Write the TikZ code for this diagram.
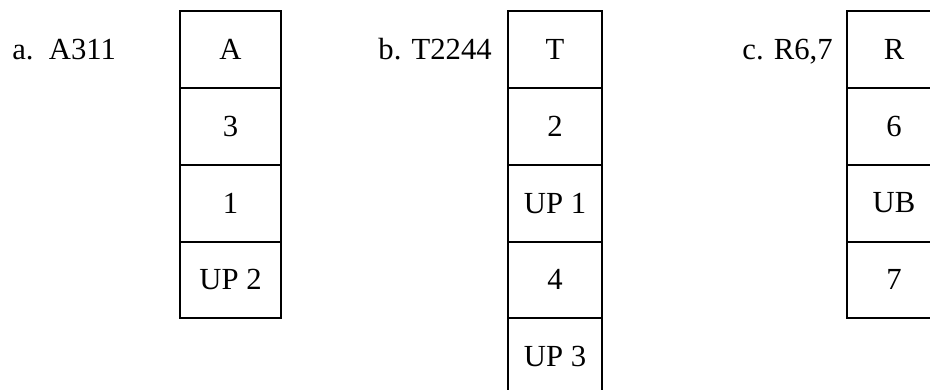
\documentclass[tikz,border=0pt]{standalone}
\usepackage{fontspec}
\setmainfont{Liberation Serif}
\usetikzlibrary{positioning}

\tikzset{
  cell/.style={draw, line width=1.5pt, minimum height=57.6pt, inner sep=0pt, outer sep=0pt,
    font=\fontsize{23}{27}\selectfont},
  cella/.style={cell, minimum width=75.75pt},
  cellb/.style={cell, minimum width=70.5pt},
  tag/.style={inner sep=0pt, font=\fontsize{23}{27}\selectfont}
}

\begin{document}
\begin{tikzpicture}[x=0.75pt, y=-0.75pt]
    \useasboundingbox (0,0) rectangle (930,389);
    \clip (0,0) rectangle (930,389);

    % Box a
    \node[cella] (a1) at (230.5,49.5) {A};
    \node[cella, below=0pt of a1] (a2) {3};
    \node[cella, below=0pt of a2] (a3) {1};
    \node[cella, below=0pt of a3] (a4) {UP 2};
    \node[tag, anchor=base west] (la) at (12,0 |- a1.base) {a.~~A311};

    % Box b
    \node[cellb] (b1) at (555,49.5) {T};
    \node[cellb, below=0pt of b1] (b2) {2};
    \node[cellb, below=0pt of b2] (b3) {UP 1};
    \node[cellb, below=0pt of b3] (b4) {4};
    \node[cellb, below=0pt of b4] (b5) {UP 3};
    \node[tag, anchor=base east] (lb) at ([xshift=-12pt]b1.west |- b1.base) {b. T2244};

    % Box c
    \node[cellb] (c1) at (894,49.5) {R};
    \node[cellb, below=0pt of c1] (c2) {6};
    \node[cellb, below=0pt of c2] (c3) {UB};
    \node[cellb, below=0pt of c3] (c4) {7};
    \node[tag, anchor=base east] (lc) at ([xshift=-10.5pt]c1.west |- c1.base) {c. R6,7};
\end{tikzpicture}
\end{document}
